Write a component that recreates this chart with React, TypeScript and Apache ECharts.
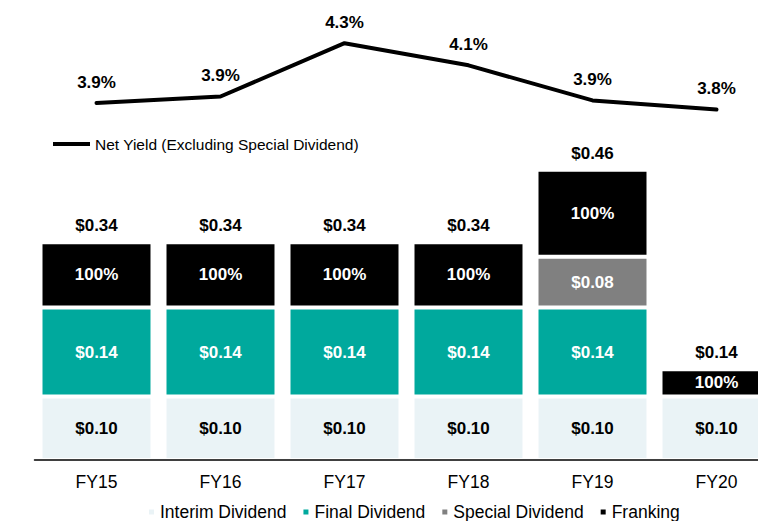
import React, { useEffect, useRef } from "react";
import * as echarts from "echarts";

const categories = ["FY15", "FY16", "FY17", "FY18", "FY19", "FY20"];
const interimDividend = [0.1, 0.1, 0.1, 0.1, 0.1, 0.1];
const finalDividend = [0.14, 0.14, 0.14, 0.14, 0.14, null];
const specialDividend = [null, null, null, null, 0.08, null];
const franking = [0.103, 0.103, 0.103, 0.103, 0.137, 0.043];
const frankingLabels = ["100%", "100%", "100%", "100%", "100%", "100%"];
const totalLabels = ["$0.34", "$0.34", "$0.34", "$0.34", "$0.46", "$0.14"];
const netYield = [3.85, 3.9, 4.31, 4.14, 3.87, 3.8];

const FONT = "'Liberation Sans', Arial, Helvetica, sans-serif";
const C_INTERIM = "#EAF3F6";
const C_FINAL = "#00A99D";
const C_SPECIAL = "#808080";
const C_FRANK = "#000000";

export default function App() {
  const ref = useRef<HTMLDivElement>(null);

  useEffect(() => {
    if (!ref.current) return;
    const chart = echarts.init(ref.current, null, { renderer: "svg" });

    const boldLabel = (color: string) => ({
      show: true,
      position: "inside" as const,
      color,
      fontFamily: FONT,
      fontWeight: "bold" as const,
      fontSize: 17,
    });
    const money = (p: any) => (p.value == null ? "" : "$" + Number(p.value).toFixed(2));
    const barItem = (color: string) => ({ color, borderColor: "#ffffff", borderWidth: 2 });

    chart.setOption({
      animation: false,
      backgroundColor: "#ffffff",
      textStyle: { fontFamily: FONT },
      legend: [
        {
          data: ["Interim Dividend", "Final Dividend", "Special Dividend", "Franking"],
          left: 147,
          top: 503,
          padding: 0,
          icon: "rect",
          itemWidth: 7,
          itemHeight: 7,
          itemGap: 15,
          textStyle: { fontFamily: FONT, fontSize: 17.5, color: "#000" },
        },
        {
          data: ["Net Yield (Excluding Special Dividend)"],
          left: 53,
          top: 136,
          padding: 0,
          icon: "rect",
          itemWidth: 37,
          itemHeight: 4,
          textStyle: { fontFamily: FONT, fontSize: 15.5, color: "#000" },
        },
      ],
      grid: [
        { left: 34.5, width: 744, top: 15.5, height: 444.5, containLabel: false, outerBoundsMode: "none" },
        { left: 34.5, width: 744, top: 5.5, height: 208, containLabel: false, outerBoundsMode: "none" },
      ],
      xAxis: [
        {
          type: "category",
          gridIndex: 0,
          data: categories,
          z: 10,
          axisLine: { lineStyle: { color: "#000", width: 1.5 } },
          axisTick: { show: false },
          axisLabel: { color: "#000", fontFamily: FONT, fontSize: 17.5, margin: 13 },
        },
        {
          type: "category",
          gridIndex: 1,
          data: categories,
          show: false,
        },
      ],
      yAxis: [
        { type: "value", gridIndex: 0, min: 0, max: 0.7, show: false, splitLine: { show: false } },
        { type: "value", gridIndex: 1, min: 3.0, max: 4.6, show: false, splitLine: { show: false } },
      ],
      series: [
        {
          name: "Interim Dividend",
          type: "bar",
          stack: "div",
          barWidth: 112,
          data: interimDividend,
          itemStyle: barItem(C_INTERIM),
          label: { ...boldLabel("#000"), formatter: money },
        },
        {
          name: "Final Dividend",
          type: "bar",
          stack: "div",
          barWidth: 112,
          data: finalDividend,
          itemStyle: barItem(C_FINAL),
          label: { ...boldLabel("#fff"), formatter: money },
        },
        {
          name: "Special Dividend",
          type: "bar",
          stack: "div",
          barWidth: 112,
          data: specialDividend,
          itemStyle: barItem(C_SPECIAL),
          label: { ...boldLabel("#fff"), formatter: money },
        },
        {
          name: "Franking",
          type: "bar",
          stack: "div",
          barWidth: 112,
          data: franking,
          itemStyle: barItem(C_FRANK),
          label: { ...boldLabel("#fff"), formatter: (p: any) => frankingLabels[p.dataIndex] },
        },
        {
          name: "Total",
          type: "bar",
          stack: "div",
          barWidth: 112,
          data: categories.map(() => 0),
          itemStyle: { color: "rgba(0,0,0,0)", borderWidth: 0 },
          label: {
            show: true,
            position: "top",
            distance: 8,
            color: "#000",
            fontFamily: FONT,
            fontWeight: "bold",
            fontSize: 17,
            formatter: (p: any) => totalLabels[p.dataIndex],
          },
        },
        {
          name: "Net Yield (Excluding Special Dividend)",
          type: "line",
          xAxisIndex: 1,
          yAxisIndex: 1,
          data: netYield,
          showSymbol: true,
          symbol: "circle",
          symbolSize: 1,
          itemStyle: { color: "#000" },
          lineStyle: { color: "#000", width: 4, cap: "round", join: "round" },
          label: {
            show: true,
            position: "top",
            distance: 12,
            color: "#000",
            fontFamily: FONT,
            fontWeight: "bold",
            fontSize: 17,
            formatter: (p: any) => Number(p.value).toFixed(1) + "%",
          },
        },
      ],
    });

    return () => chart.dispose();
  }, []);

  return (
    <div
      ref={ref}
      style={{ position: "fixed", left: 0, top: 0, width: 758, height: 521, background: "#fff" }}
    />
  );
}
